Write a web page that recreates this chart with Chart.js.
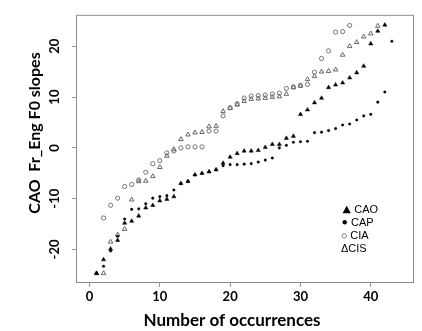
<!DOCTYPE html>
<html>
<head>
<meta charset="utf-8">
<script src="https://cdn.jsdelivr.net/npm/chart.js@4"></script>
<style>
  html, body { margin: 0; padding: 0; background: #fff; }
  #wrap { width: 422px; height: 331px; }
</style>
</head>
<body>
<div id="wrap"><canvas id="slopes"></canvas></div>
<script>
// slopes sorted ascending, x = rank (1..n); null = no visible point
const caoValues = [-24.7, -22.0, -19.9, -18.2, -14.8, -14.4, -13.4, -11.8, -11.3, -10.4,
  -10.1, -9.6, -7.0, -6.6, -5.3, -5.0, -4.7, -4.3, -3.0, -1.8,
  -1.1, -0.6, -0.6, -0.5, 0.1, 0.7, 0.7, 1.9, 2.3, 6.6,
  7.5, 8.9, 9.8, 11.9, 12.4, 12.8, 13.8, 14.8, 16.1, 20.5,
  23.0, 24.2];
const capValues = [-24.7, -23.3, -20.3, -17.4, -14.0, -12.1, -12.0, -11.0, -9.9, -9.6,
  -9.4, -8.3, -7.0, -6.6, -5.3, -5.0, -4.7, -4.3, -3.5, -3.3,
  -3.3, -3.2, -3.1, -2.8, -2.4, -2.0, 0.0, 0.5, 1.1, 1.2,
  1.3, 3.0, 3.1, 3.4, 3.8, 4.5, 4.7, 5.5, 6.3, 6.6,
  9.0, 11.0, 21.0];
const ciaValues = [null, -13.8, -11.3, -9.9, -7.6, -7.2, -6.3, -4.8, -3.1, -2.5,
  -1.0, -0.6, 0.0, 0.2, 0.2, 0.2, 3.3, 3.3, 6.3, 7.9,
  8.7, 9.8, 10.2, 10.3, 10.4, 10.6, 10.8, 11.7, 12.0, 12.3,
  12.5, 14.9, 17.6, 19.1, 22.8, 22.9, 24.1];
const cisValues = [-24.7, -24.7, -18.5, -17.1, -16.0, -10.2, -6.6, -6.5, -5.6, -3.8,
  -1.6, -0.3, 1.7, 2.6, 3.0, 3.1, 4.2, 4.3, 7.2, 7.8,
  8.5, 9.2, 9.6, 9.7, 9.8, 10.0, 10.1, 10.6, 11.9, 12.2,
  13.5, 14.1, 15.0, 15.1, 15.4, 18.3, 20.0, 20.8, 21.9, 22.5,
  24.0];

const seriesNames = ["CAO", "CAP", "CIA", "CIS"];
const xTickValues = [0, 10, 20, 30, 40];
const yTickValues = [-20, -10, 0, 10, 20];
const xTitle = "Number of occurrences";
const yTitle = "CAO  Fr_Eng F0 slopes";

function toPoints(values) {
  const pts = [];
  values.forEach((v, i) => {
    if (v !== null) pts.push({ x: i + 1, y: v });
  });
  return pts;
}

const boldFont = "Lato, 'Open Sans', sans-serif";

// box, axis titles and the little legend in the lower right
const framePlugin = {
  id: "frame",
  beforeDatasetsDraw(chart) {
    const { ctx, chartArea: a } = chart;
    ctx.save();
    ctx.strokeStyle = "#8c8c8c";
    ctx.lineWidth = 1;
    ctx.strokeRect(a.left + 0.5, a.top + 0.5, a.right - a.left - 1, a.bottom - a.top - 1);
    ctx.restore();
  },
  afterDraw(chart) {
    const ctx = chart.ctx;
    ctx.save();
    ctx.fillStyle = "#000";

    ctx.font = "bold 17px " + boldFont;
    ctx.textAlign = "center";
    ctx.textBaseline = "alphabetic";
    ctx.fillText(xTitle, 232, 326);

    ctx.translate(39.5, 133);
    ctx.rotate(-Math.PI / 2);
    ctx.font = "bold 16px " + boldFont;
    ctx.fillText(yTitle, 0, 0);
    ctx.restore();

    // legend
    ctx.save();
    ctx.fillStyle = "#000";
    ctx.font = "11px 'Liberation Sans', Arial, sans-serif";
    ctx.textAlign = "left";
    ctx.textBaseline = "middle";

    ctx.beginPath();
    ctx.moveTo(346.7, 205.7);
    ctx.lineTo(350.8, 213.3);
    ctx.lineTo(342.6, 213.3);
    ctx.closePath();
    ctx.fill();
    ctx.fillText(seriesNames[0], 354.3, 209.8);

    ctx.beginPath();
    ctx.arc(344.7, 222.3, 2.2, 0, Math.PI * 2);
    ctx.fill();
    ctx.fillText(seriesNames[1], 351, 222.5);

    ctx.beginPath();
    ctx.strokeStyle = "#777";
    ctx.lineWidth = 0.9;
    ctx.arc(344.3, 235.8, 2.2, 0, Math.PI * 2);
    ctx.stroke();
    ctx.fillText(seriesNames[2], 350.3, 235.5);

    ctx.fillText("\u0394" + seriesNames[3], 341, 249);
    ctx.restore();
  }
};

const cfg = {
  type: "scatter",
  data: {
    datasets: [
      {
        label: seriesNames[0],
        data: toPoints(caoValues),
        pointStyle: "triangle",
        pointRadius: 2.4,
        backgroundColor: "#000",
        borderColor: "#000",
        borderWidth: 0.5,
      },
      {
        label: seriesNames[1],
        data: toPoints(capValues),
        pointStyle: "circle",
        pointRadius: 1.3,
        backgroundColor: "#000",
        borderColor: "#000",
        borderWidth: 0.3,
      },
      {
        label: seriesNames[2],
        data: toPoints(ciaValues),
        pointStyle: "circle",
        pointRadius: 2.1,
        backgroundColor: "rgba(0,0,0,0)",
        borderColor: "#666",
        borderWidth: 0.9,
      },
      {
        label: seriesNames[3],
        data: toPoints(cisValues),
        pointStyle: "triangle",
        pointRadius: 2.6,
        backgroundColor: "rgba(0,0,0,0)",
        borderColor: "#555",
        borderWidth: 0.9,
      },
    ],
  },
  options: {
    responsive: true,
    maintainAspectRatio: false,
    animation: false,
    events: [],
    layout: { padding: { top: 7, right: 8, left: 0, bottom: 0 } },
    plugins: {
      legend: { display: false },
      tooltip: { enabled: false },
    },
    scales: {
      x: {
        type: "linear",
        min: -1.92,
        max: 46.15,
        afterBuildTicks: (scale) => {
          scale.ticks = xTickValues.map((v) => ({ value: v }));
        },
        afterFit: (scale) => {
          scale.height = 48;
        },
        border: { display: false },
        grid: {
          drawOnChartArea: false,
          drawTicks: true,
          tickLength: 4,
          tickColor: "#999",
        },
        ticks: {
          color: "#000",
          padding: 2,
          maxRotation: 0,
          font: { family: boldFont, size: 13, weight: "bold" },
        },
      },
      y: {
        type: "linear",
        min: -26.6,
        max: 26.2,
        afterBuildTicks: (scale) => {
          scale.ticks = yTickValues.map((v) => ({ value: v }));
        },
        afterFit: (scale) => {
          scale.width = 76;
        },
        border: { display: false },
        grid: {
          drawOnChartArea: false,
          drawTicks: true,
          tickLength: 4,
          tickColor: "#999",
        },
        ticks: {
          color: "#000",
          padding: 7,
          minRotation: 90,
          maxRotation: 90,
          crossAlign: "center",
          font: { family: boldFont, size: 13, weight: "bold" },
        },
      },
    },
  },
  plugins: [framePlugin],
};

new Chart(document.getElementById("slopes"), cfg);
</script>
</body>
</html>
